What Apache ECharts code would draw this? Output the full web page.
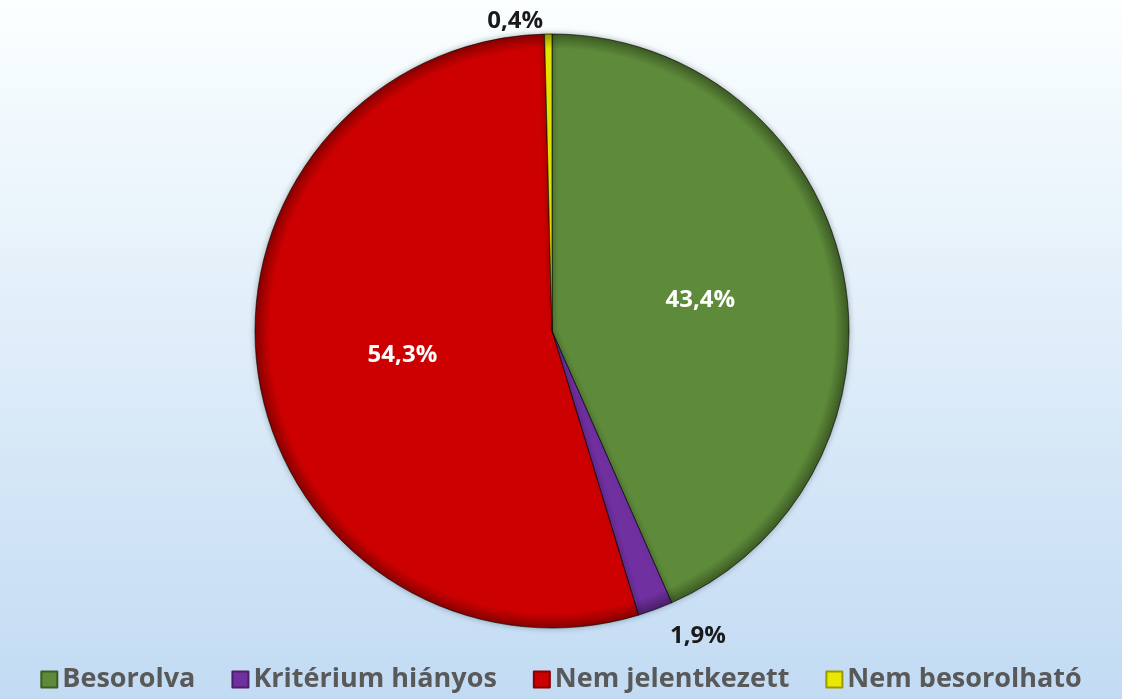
<!DOCTYPE html>
<html>
<head>
<meta charset="utf-8">
<script src="https://cdn.jsdelivr.net/npm/echarts@6/dist/echarts.min.js"></script>
<style>
  html, body { margin: 0; padding: 0; }
  #pie { width: 1122px; height: 699px; }
</style>
</head>
<body>
<div id="pie"></div>
<script>
var names = ['Besorolva', 'Kritérium hiányos', 'Nem jelentkezett', 'Nem besorolható'];
var values = [43.4, 1.9, 54.3, 0.4];
var colors = ['#5e8b3a', '#7030a0', '#cc0000', '#e8e800'];
var darkColors = ['#3d5c25', '#4a1f6b', '#880000', '#9a9a00'];

var cx = 552, cy = 331, r = 297;

// kis szeletek felirata kívül, a nagyoké belül
var pieData = names.map(function (n, i) {
  var item = {
    name: n,
    value: values[i],
    itemStyle: {
      color: {
        type: 'radial', x: cx, y: cy, r: r, global: true,
        colorStops: [
          {offset: 0, color: colors[i]},
          {offset: 0.95, color: colors[i]},
          {offset: 1, color: darkColors[i]}
        ]
      }
    }
  };
  if (values[i] < 5) {
    item.label = {position: 'outside', color: '#1a1a1a'};
    item.labelLine = {show: false, length: i === 1 ? 28 : 13, length2: 0};
  }
  return item;
});

var chart = echarts.init(document.getElementById('pie'));
chart.setOption({
  backgroundColor: {
    type: 'linear', x: 0, y: 0, x2: 0, y2: 1,
    colorStops: [
      {offset: 0, color: '#fbffff'},
      {offset: 1, color: '#c2dbf3'}
    ]
  },
  color: colors,
  legend: {
    bottom: 1,
    left: 'center',
    itemWidth: 16,
    itemHeight: 16,
    itemGap: 36,
    icon: 'rect',
    textStyle: {
      fontFamily: 'Open Sans',
      fontWeight: 'bold',
      fontSize: 27,
      color: '#595959'
    },
    data: names.map(function (n, i) {
      return {name: n, itemStyle: {color: colors[i], borderColor: darkColors[i], borderWidth: 2}};
    })
  },
  series: [
    {
      type: 'pie',
      center: [cx, cy],
      radius: [0, r],
      startAngle: 90,
      clockwise: true,
      avoidLabelOverlap: false,
      itemStyle: {
        borderColor: 'rgba(0,0,0,0.35)',
        borderWidth: 1,
        shadowBlur: 6,
        shadowColor: 'rgba(0,0,0,0.3)'
      },
      label: {
        show: true,
        position: 'inside',
        color: '#ffffff',
        fontFamily: 'Open Sans',
        fontWeight: 'bold',
        fontSize: 24,
        formatter: function (p) {
          return p.value.toFixed(1).replace('.', ',') + '%';
        }
      },
      labelLine: {show: false},
      emphasis: {disabled: true},
      data: pieData
    }
  ]
});
</script>
</body>
</html>
